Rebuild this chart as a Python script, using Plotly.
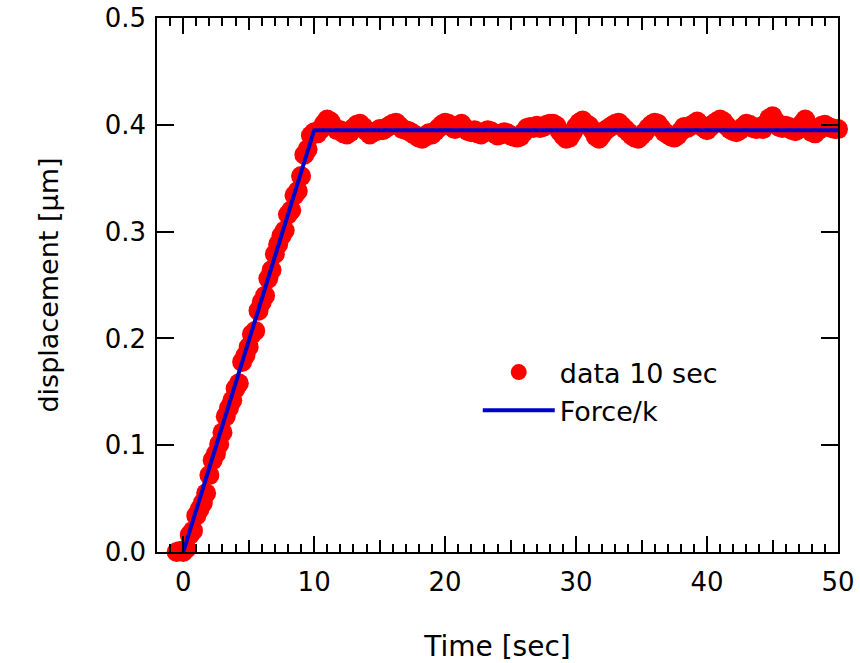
import numpy as np
import plotly.graph_objects as go

# ---- data -------------------------------------------------------------
dt = 0.25
time_pre = [-0.5, -0.25]
disp_pre = [0.000, 0.001]

# displacement [um] sampled every 0.25 s from t = 0 to t = 50
disp = [
    0.000, 0.003, 0.016, 0.020, 0.034, 0.040, 0.046, 0.055,   # 0 - 1.75
    0.072, 0.086, 0.092, 0.101, 0.112, 0.127, 0.135, 0.142,   # 2 - 3.75
    0.153, 0.158, 0.178, 0.184, 0.192, 0.204, 0.207, 0.226,   # 4 - 5.75
    0.234, 0.240, 0.256, 0.264, 0.279, 0.288, 0.296, 0.301,   # 6 - 7.75
    0.316, 0.320, 0.334, 0.338, 0.352, 0.372, 0.377, 0.390,   # 8 - 9.75
    0.393, 0.392, 0.396, 0.401, 0.405, 0.403, 0.398, 0.395,   # 10 - 11.75
    0.395, 0.392, 0.391, 0.393, 0.397, 0.400, 0.401, 0.398,   # 12 - 13.75
    0.394, 0.391, 0.393, 0.394, 0.396, 0.395, 0.397, 0.399,   # 14 - 15.75
    0.401, 0.402, 0.399, 0.396, 0.395, 0.394, 0.392, 0.390,   # 16 - 17.75
    0.388, 0.387, 0.389, 0.392, 0.391, 0.394, 0.397, 0.400,   # 18 - 19.75
    0.402, 0.401, 0.398, 0.396, 0.399, 0.401, 0.397, 0.394,   # 20 - 21.75
    0.393, 0.395, 0.392, 0.391, 0.393, 0.395, 0.394, 0.392,   # 22 - 23.75
    0.390, 0.391, 0.393, 0.392, 0.390, 0.389, 0.388, 0.389,   # 24 - 25.75
    0.393, 0.397, 0.398, 0.397, 0.399, 0.397, 0.398, 0.400,   # 26 - 27.75
    0.401, 0.401, 0.399, 0.394, 0.390, 0.387, 0.388, 0.393,   # 28 - 29.75
    0.398, 0.402, 0.404, 0.401, 0.399, 0.395, 0.389, 0.387,   # 30 - 31.75
    0.391, 0.395, 0.397, 0.399, 0.401, 0.402, 0.399, 0.396,   # 32 - 33.75
    0.393, 0.390, 0.388, 0.387, 0.390, 0.393, 0.397, 0.400,   # 34 - 35.75
    0.402, 0.401, 0.397, 0.393, 0.391, 0.389, 0.388, 0.390,   # 36 - 37.75
    0.394, 0.398, 0.397, 0.399, 0.401, 0.403, 0.400, 0.397,   # 38 - 39.75
    0.395, 0.398, 0.401, 0.403, 0.405, 0.403, 0.399, 0.396,   # 40 - 41.75
    0.394, 0.393, 0.395, 0.398, 0.401, 0.400, 0.397, 0.396,   # 42 - 43.75
    0.398, 0.396, 0.401, 0.406, 0.408, 0.403, 0.398, 0.397,   # 44 - 45.75
    0.399, 0.398, 0.395, 0.394, 0.396, 0.401, 0.405, 0.399,   # 46 - 47.75
    0.393, 0.392, 0.395, 0.399, 0.400, 0.398, 0.397, 0.396,   # 48 - 49.75
    0.396,                                                    # 50
]
time_main = list(np.round(np.arange(len(disp)) * dt, 2))

time_data = time_pre + time_main
disp_data = disp_pre + disp

# Force / k model line
force_t = [0, 10, 50]
force_d = [0.0, 0.395, 0.395]

x_major = [0, 10, 20, 30, 40, 50]
x_mid = [5, 15, 25, 35, 45]
y_ticks = [0.0, 0.1, 0.2, 0.3, 0.4, 0.5]

FONT = "DejaVu Sans"
# ---- figure -----------------------------------------------------------
fig = go.Figure()
fig.add_trace(go.Scatter(
    x=time_data, y=disp_data, mode="markers", name="data 10 sec",
    marker=dict(color="#ff0000", size=20, line=dict(width=0)),
    cliponaxis=False,
))
fig.add_trace(go.Scatter(
    x=force_t, y=force_d, mode="lines", name="Force/k",
    line=dict(color="#0000cc", width=4),
))
# helper (invisible) trace for mid-length x ticks axis
fig.add_trace(go.Scatter(
    x=force_t, y=force_d, mode="lines", xaxis="x2", showlegend=False,
    hoverinfo="skip", line=dict(width=0), opacity=0,
))

axis_common = dict(
    showline=True, linecolor="#000000", linewidth=1.5, mirror="ticks",
    ticks="inside", tickcolor="#000000", tickwidth=1.5,
    showgrid=False, zeroline=False, automargin=False,
    ticklabeloverflow="allow",
)

fig.update_layout(
    width=860, height=663,
    margin=dict(l=157, r=22, t=18, b=111),
    paper_bgcolor="white", plot_bgcolor="white",
    font=dict(family=FONT, color="#000000"),
    xaxis=dict(
        **axis_common,
        range=[-2, 50], tickvals=x_major, ticklen=16,
        minor=dict(dtick=1, tick0=0, ticks="inside", ticklen=8,
                   tickcolor="#000000", tickwidth=1.5),
        tickfont=dict(size=26, family=FONT),
        ticklabelstandoff=6,
        title=dict(text="Time [sec]", font=dict(size=28, family=FONT), standoff=40),
    ),
    xaxis2=dict(
        **axis_common,
        range=[-2, 50], tickvals=x_mid, ticklen=12, showticklabels=False,
        overlaying="x", anchor="y",
    ),
    yaxis=dict(
        **axis_common,
        range=[0, 0.5], tickvals=y_ticks, tickformat=".1f", ticklen=17,
        tickfont=dict(size=26, family=FONT),
        ticklabelstandoff=4,
        title=dict(text="displacement [μm]", font=dict(size=27, family=FONT), standoff=38),
    ),
    showlegend=True,
    legend=dict(
        x=0.471, y=0.382, xanchor="left", yanchor="top",
        bgcolor="rgba(0,0,0,0)", borderwidth=0,
        font=dict(size=27, family=FONT),
        itemwidth=72, tracegroupgap=0,
    ),
)

fig.write_html("out.html")
